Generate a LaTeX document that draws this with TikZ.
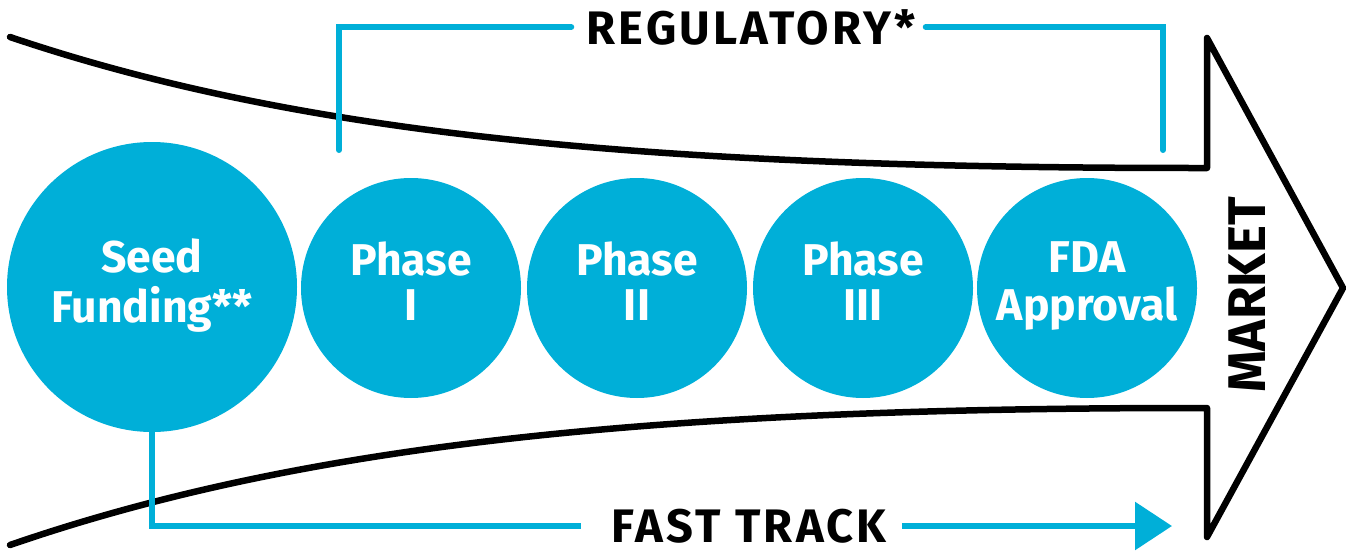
\documentclass[tikz,border=0pt]{standalone}
\usepackage{fontspec}
\setmainfont{Fira Sans}
\usetikzlibrary{arrows.meta}
\definecolor{fdacyan}{RGB}{0,175,216}
\begin{document}
\begin{tikzpicture}[x=1pt,y=-1pt,
  blob/.style={circle,fill=fdacyan,inner sep=0pt,text=white,align=center,
    font=\fontsize{44.5}{44}\selectfont\bfseries},
  cyanline/.style={draw=fdacyan,line width=6pt},
  outline/.style={draw=black,line width=6.5pt,line cap=round,line join=round},
  label/.style={font=\fontsize{47}{47}\selectfont\bfseries\addfontfeature{LetterSpace=7},inner sep=0pt}]
\useasboundingbox (0,0) rectangle (1348,551);
% black funnel arrow
\draw[outline] (10,37) .. controls (300,135) and (650,168) .. (1195,168)
  -- (1207,168) -- (1207,38) -- (1343,288) -- (1207,537) -- (1207,408) -- (1195,408)
  .. controls (650,408) and (300,445) .. (10,545);
% circles
\node[blob,minimum size=290pt] (seed) at (152,287) {Seed\strut\\Funding**\strut};
\node[blob,minimum size=220pt] (p1) at (411,288) {Phase\strut\\I\strut};
\node[blob,minimum size=220pt] (p2) at (637,288) {Phase\strut\\II\strut};
\node[blob,minimum size=220pt] (p3) at (863,288) {Phase\strut\\III\strut};
\node[blob,minimum size=220pt] (fda) at (1087,288) {FDA\strut\\Approval\strut};
% regulatory bracket
\node[label] (reg) at (751,27) {REGULATORY*};
\coordinate (r1) at (339,150);
\coordinate (r4) at (1163,150);
\draw[cyanline,line cap=round] (r1) |- ([xshift=-15pt]reg.west);
\draw[cyanline,line cap=round] ([xshift=10pt]reg.east) -| (r4);
% fast track
\node[label] (ft) at (749,526) {FAST TRACK};
\coordinate (ftend) at (1172,526);
\draw[cyanline] (seed.south) |- ([xshift=-30pt]ft.west);
\draw[cyanline,-{Triangle[length=37pt,width=47pt]}] ([xshift=15pt]ft.east) -- (ftend);
% market
\node[font=\fontsize{53}{53}\selectfont\bfseries,rotate=90,inner sep=0pt] (mkt) at (1247,295) {MARKET};
\end{tikzpicture}
\end{document}
